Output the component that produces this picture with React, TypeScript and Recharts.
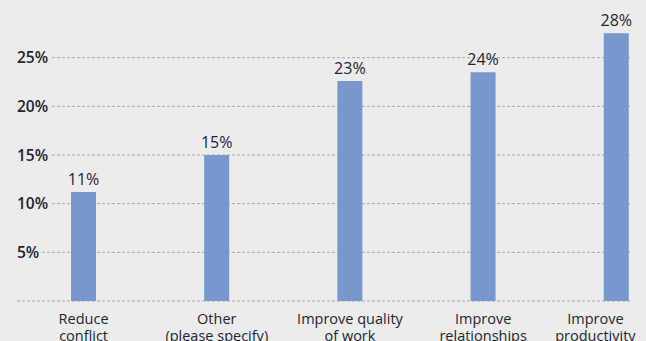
import { BarChart, Bar, XAxis, YAxis, CartesianGrid, LabelList } from "recharts"

const categories = [
  "Reduce\nconflict",
  "Other\n(please specify)",
  "Improve quality\nof work",
  "Improve\nrelationships",
  "Improve\nproductivity",
]
const shares = [11.2, 15.0, 22.6, 23.5, 27.5]
const yTicks = [0, 5, 10, 15, 20, 25]

const data = categories.map((name, i) => ({ pos: i, name, value: shares[i] }))

const FONT = "'Open Sans', 'Noto Sans', sans-serif"
const INK = "#1e2530"
const BG = "#ececec"

function YTick({ y, payload }: any) {
  if (payload.value === 0) return null
  const label = `${payload.value}%`
  // rough text width so the gridline starts right after the label
  const w = (label.length - 1) * 9 + 13
  return (
    <g>
      <rect x={15} y={y - 9} width={w + 5} height={18} fill={BG} />
      <text
        x={17}
        y={y}
        dy={5.5}
        textAnchor="start"
        fontFamily={FONT}
        fontSize={15.5}
        fontWeight={600}
        fill={INK}
      >
        {label}
      </text>
    </g>
  )
}

function XTick({ x, y, payload }: any) {
  const lines = categories[payload.value]?.split("\n") ?? []
  const widest = Math.max(...lines.map((l) => l.length)) * 7.1
  // keep the last label inside the picture
  const cx = Math.min(x, 638 - widest / 2)
  return (
    <text
      x={cx}
      y={y}
      textAnchor="middle"
      fontFamily={FONT}
      fontSize={14.5}
      fontWeight={500}
      fill={INK}
    >
      {lines.map((l, i) => (
        <tspan key={i} x={cx} dy={i === 0 ? 15 : 17}>
          {l}
        </tspan>
      ))}
    </text>
  )
}

export default function App() {
  return (
    <div style={{ position: "absolute", left: 0, top: 0, width: 646, height: 341, background: BG, overflow: "hidden" }}>
      <BarChart
        width={646}
        height={341}
        data={data}
        margin={{ top: 9, right: 15, bottom: 0, left: 0 }}
      >
        <CartesianGrid vertical={false} stroke="#a9a9a9" strokeDasharray="3 2" syncWithTicks />
        <XAxis
          dataKey="pos"
          type="number"
          domain={[-0.5, 4.11]}
          ticks={[0, 1, 2, 3, 4]}
          axisLine={false}
          tickLine={false}
          height={40}
          tick={<XTick />}
          allowDataOverflow
        />
        <YAxis
          width={17}
          domain={[0, 30]}
          ticks={yTicks}
          axisLine={false}
          tickLine={false}
          tick={<YTick />}
        />
        <Bar dataKey="value" fill="#7797cd" barSize={25} isAnimationActive={false}>
          <LabelList
            dataKey="value"
            position="top"
            offset={7}
            formatter={(v: any) => `${Math.round(Number(v))}%`}
            style={{ fontFamily: FONT, fontSize: 16, fontWeight: 500, fill: INK }}
          />
        </Bar>
      </BarChart>
    </div>
  )
}
